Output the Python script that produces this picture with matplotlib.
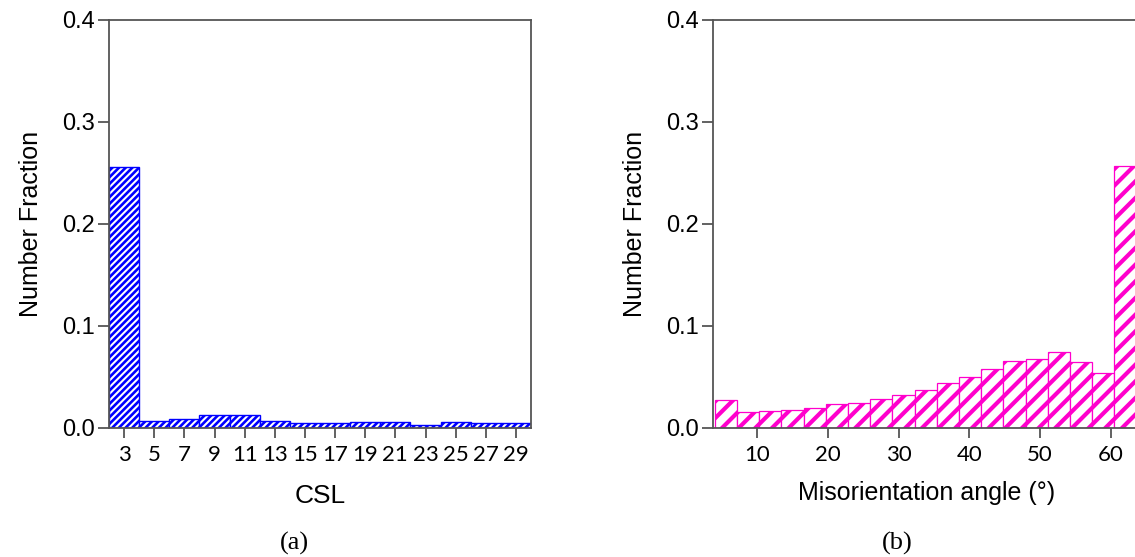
import matplotlib
matplotlib.use("Agg")
import matplotlib.pyplot as plt
import numpy as np

# ---- data ----
csl_values = [3, 5, 7, 9, 11, 13, 15, 17, 19, 21, 23, 25, 27, 29]
csl_fraction = [0.256, 0.007, 0.009, 0.013, 0.013, 0.007, 0.005, 0.005,
                0.006, 0.006, 0.003, 0.006, 0.0045, 0.005]

angle_bin_start = 4.0
angle_bin_width = 3.14
angle_fraction = [0.027, 0.0157, 0.0164, 0.0177, 0.020, 0.024, 0.025, 0.0288,
                  0.032, 0.037, 0.044, 0.050, 0.0575, 0.066, 0.068, 0.0745,
                  0.065, 0.054, 0.2566]
angle_centers = [angle_bin_start + angle_bin_width * (i + 0.5) for i in range(len(angle_fraction))]

y_ticks = [0.0, 0.1, 0.2, 0.3, 0.4]
csl_ticks = csl_values
angle_ticks = [10, 20, 30, 40, 50, 60]

W, H = 1135, 557
fig = plt.figure(figsize=(W / 100, H / 100), dpi=100)

spine_col = "#555555"
tick_font = "Lato"
label_font = ["Liberation Sans", "DejaVu Sans"]


def style_axes(ax):
    for s in ax.spines.values():
        s.set_color(spine_col)
        s.set_linewidth(1.3)
    ax.tick_params(axis="both", direction="out", color=spine_col, width=1.3)
    ax.tick_params(axis="y", length=8, labelsize=17, pad=2)
    ax.tick_params(axis="x", length=7, labelsize=16, pad=5)
    ax.set_ylim(0, 0.4)
    ax.set_yticks(y_ticks)
    ax.set_yticklabels(["%.1f" % v for v in y_ticks], family=label_font)
    ax.set_ylabel("Number Fraction", fontsize=18, family=label_font, labelpad=14)


# ---- left panel ----
ax1 = fig.add_axes([109 / W, (H - 428) / H, 422 / W, 408 / H])
bars1 = ax1.bar(csl_values, csl_fraction, width=2.0, facecolor="white",
                edgecolor="#0000FF", linewidth=1.0, hatch="/////")
for b in bars1:
    if hasattr(b, "set_hatch_linewidth"):
        b.set_hatch_linewidth(1.9)
ax1.set_xlim(2, 30)
ax1.set_xticks(csl_ticks)
ax1.set_xticklabels([str(v) for v in csl_ticks], family=tick_font)
style_axes(ax1)
ax1.set_xlabel("CSL", fontsize=19, family=label_font, labelpad=14)

# ---- right panel ----
ax2 = fig.add_axes([712.7 / W, (H - 428) / H, (1140 - 712.7) / W, 408 / H])
bars2 = ax2.bar(angle_centers, angle_fraction, width=angle_bin_width, facecolor="white",
                edgecolor="#FF00CC", linewidth=0.9, hatch="//")
for b in bars2:
    if hasattr(b, "set_hatch_linewidth"):
        b.set_hatch_linewidth(3.0)
ax2.set_xlim(3.7, 3.7 + (1140 - 712.7) / 7.068)
ax2.set_xticks(angle_ticks)
ax2.set_xticklabels([str(v) for v in angle_ticks], family=tick_font)
style_axes(ax2)
ax2.set_xlabel("Misorientation angle (°)", fontsize=18, family=label_font, labelpad=12)

# ---- panel captions ----
fig.text(294 / W, 1 - 543 / H, "(a)", ha="center", va="center",
         fontsize=19, family=["Liberation Serif", "DejaVu Serif"])
fig.text(897 / W, 1 - 543 / H, "(b)", ha="center", va="center",
         fontsize=19, family=["Liberation Serif", "DejaVu Serif"])

fig.savefig("out.png", dpi=100)
